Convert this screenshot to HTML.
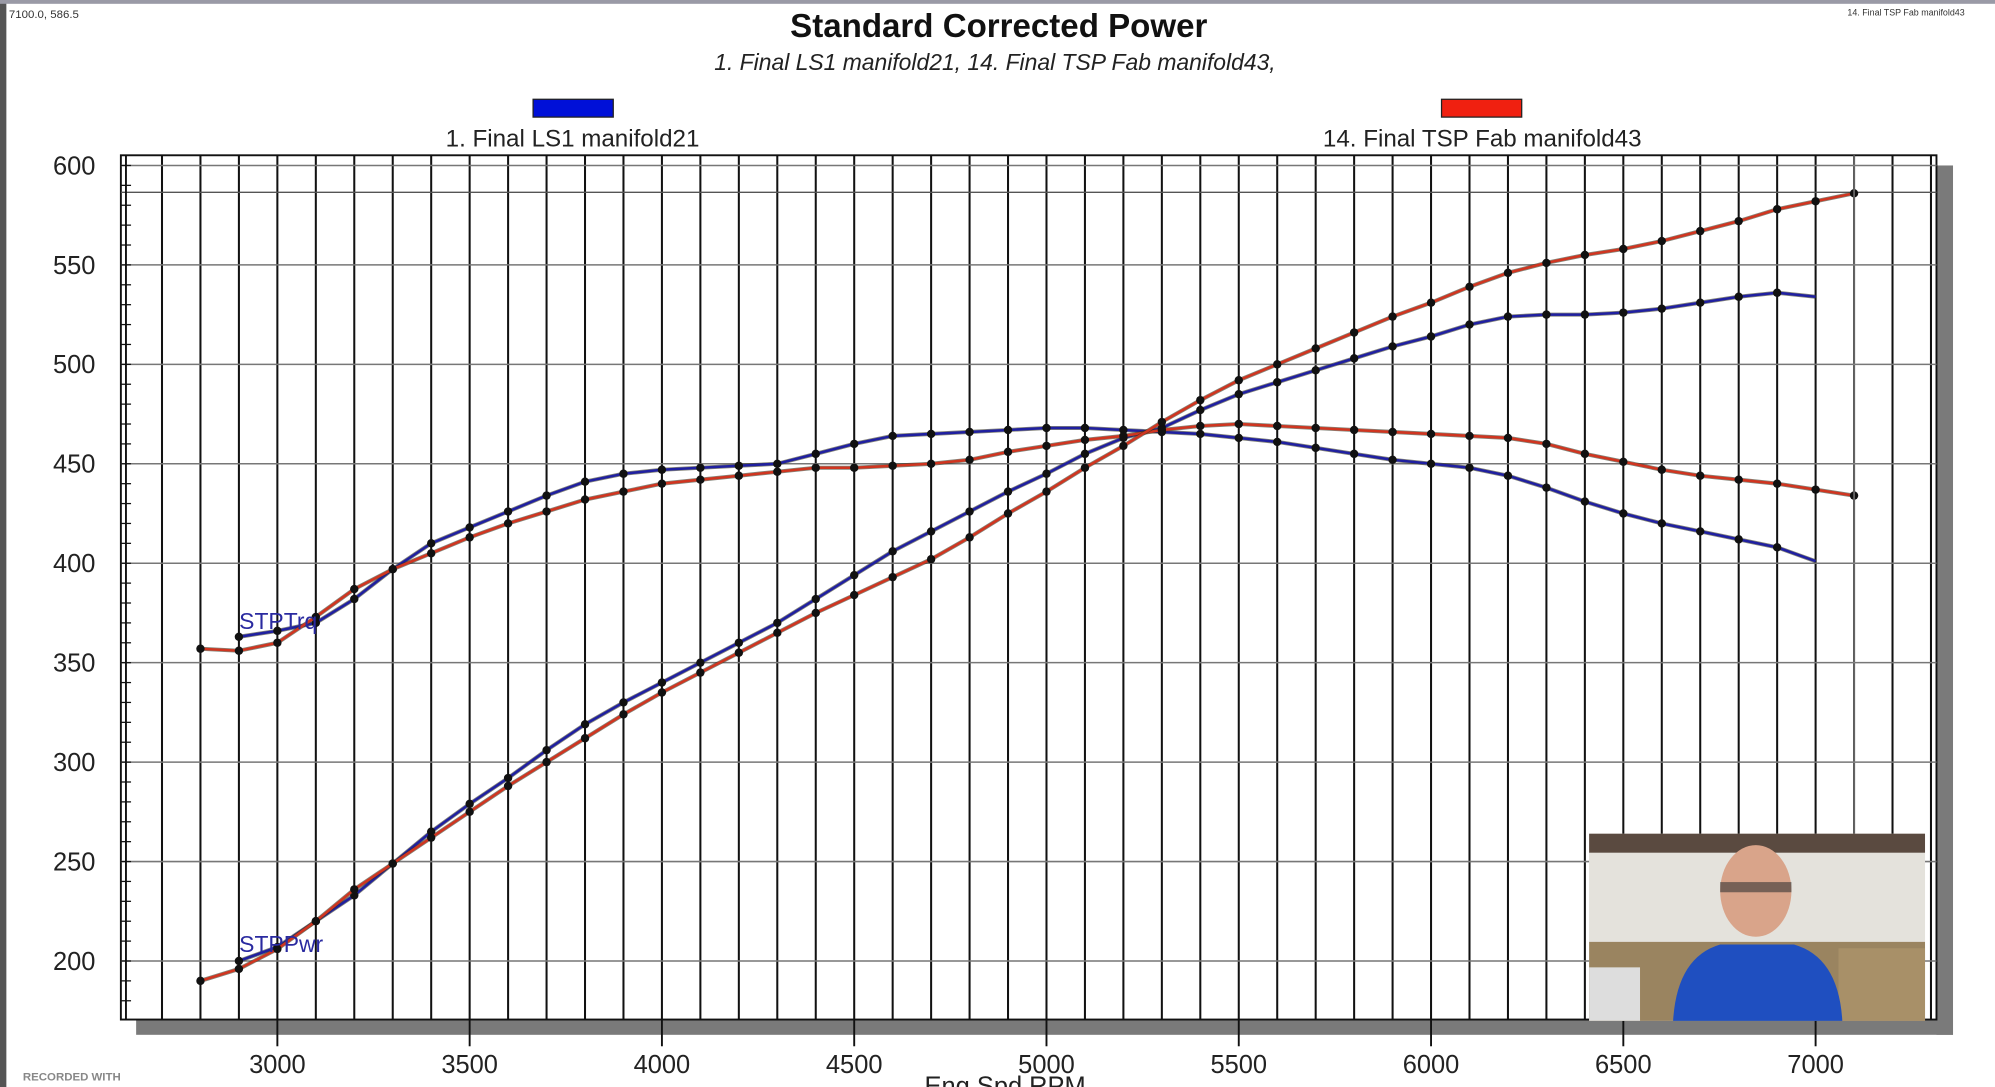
<!DOCTYPE html>
<html><head><meta charset="utf-8"><style>
html,body{margin:0;padding:0;background:#fff;overflow:hidden}
svg{display:block}
text{font-family:"Liberation Sans",sans-serif}
</style></head><body>
<svg id="s" width="1995" height="1087" viewBox="0 0 1568 854" preserveAspectRatio="none" xmlns="http://www.w3.org/2000/svg">
<rect width="1568" height="854" fill="#fff"/>
<rect x="0" y="0" width="5" height="854" fill="#555"/>
<rect x="0" y="0" width="1568" height="3" fill="#9a9aa6"/>
<text x="7" y="14" font-size="9" fill="#333">7100.0, 586.5</text>
<text x="1452" y="12" font-size="7" fill="#333">14. Final TSP Fab manifold43</text>
<text x="785" y="29" font-size="26" font-weight="bold" text-anchor="middle" fill="#111">Standard Corrected Power</text>
<text x="782" y="55" font-size="18" font-style="italic" text-anchor="middle" fill="#222">1. Final LS1 manifold21, 14. Final TSP Fab manifold43,</text>
<rect x="419" y="78" width="63" height="14" fill="#0010d8" stroke="#222"/>
<text x="450" y="115" font-size="19" text-anchor="middle" fill="#222">1. Final LS1 manifold21</text>
<rect x="1133" y="78" width="63" height="14" fill="#f02010" stroke="#222"/>
<text x="1165" y="115" font-size="19" text-anchor="middle" fill="#222">14. Final TSP Fab manifold43</text>
<!-- shadow -->
<rect x="107" y="801" width="1428" height="12" fill="#7a7a7a"/>
<rect x="1522" y="130" width="13" height="683" fill="#7a7a7a"/>
<rect x="95" y="122" width="1427" height="679" fill="#fff" stroke="#111" stroke-width="1.5"/>
<g id="grid"></g>
<g id="lines"></g>
<text x="188" y="494" font-size="18" fill="#2a2aa0">STPTrq</text>
<text x="188" y="748" font-size="18" fill="#2a2aa0">STPPwr</text>
<g id="ylab" font-size="20" fill="#222" text-anchor="end"></g>
<g id="xlab" font-size="20" fill="#222" text-anchor="middle"></g>
<text x="790" y="860" font-size="20" text-anchor="middle" fill="#222">Eng Spd RPM</text>
<text x="18" y="849" font-size="9" font-weight="bold" fill="#888">RECORDED WITH</text>
<!-- webcam -->
<g>
<rect x="1249" y="655" width="264" height="147" fill="#d8d4cc"/>
<rect x="1249" y="655" width="264" height="15" fill="#5a4a40"/>
<rect x="1249" y="670" width="264" height="70" fill="#e4e2dc"/>
<rect x="1249" y="740" width="264" height="62" fill="#9a8460"/>
<rect x="1249" y="760" width="40" height="42" fill="#ddd"/>
<rect x="1445" y="745" width="68" height="57" fill="#a89068"/>
<ellipse cx="1380" cy="700" rx="28" ry="36" fill="#d9a48a"/>
<rect x="1352" y="693" width="56" height="8" fill="#333" opacity="0.6"/>
<path d="M1315 802 Q1318 752 1352 742 L1410 742 Q1445 752 1448 802 Z" fill="#1f4fc0"/>
</g>
</svg>
<script>
const X=r=>218+(r-3000)*0.30225, Y=v=>755-(v-200)*1.5625;
const ns="http://www.w3.org/2000/svg";
function el(p,t,a){const e=document.createElementNS(ns,t);for(const k in a)e.setAttribute(k,a[k]);p.appendChild(e);return e;}
const g=document.getElementById('grid');
for(let r=2700;r<=7300;r+=100){el(g,'line',{x1:X(r),y1:122,x2:X(r),y2:801,stroke:'#111','stroke-width':1.6});}
for(let v=200;v<=600;v+=50){el(g,'line',{x1:95,y1:Y(v),x2:1522,y2:Y(v),stroke:'#777','stroke-width':1.2});}
for(let v=180;v<=600;v+=10){el(g,'line',{x1:95,y1:Y(v),x2:103,y2:Y(v),stroke:'#111','stroke-width':1});}
el(g,'line',{x1:95,y1:Y(586.5),x2:1522,y2:Y(586.5),stroke:'#555','stroke-width':1});
el(g,'line',{x1:99,y1:122,x2:99,y2:801,stroke:'#111','stroke-width':1.5});
const yl=document.getElementById('ylab');
for(let v=200;v<=600;v+=50){const t=el(yl,'text',{x:75,y:Y(v)+7});t.textContent=v;}
const xl=document.getElementById('xlab');
for(let r=3000;r<=7000;r+=500){const t=el(xl,'text',{x:X(r),y:843});t.textContent=r;el(g,'line',{x1:X(r),y1:801,x2:X(r),y2:822,stroke:'#111','stroke-width':1.5});}
const rt=[357,356,360,373,387,397,405,413,420,426,432,436,440,442,444,446,448,448,449,450,452,456,459,462,464,467,469,470,469,468,467,466,465,464,463,460,455,451,447,444,442,440,437,434];
const bt=[null,363,366,370,382,397,410,418,426,434,441,445,447,448,449,450,455,460,464,465,466,467,468,468,467,466,465,463,461,458,455,452,450,448,444,438,431,425,420,416,412,408,401];
const rp=[190,196,206,220,236,249,262,275,288,300,312,324,335,345,355,365,375,384,393,402,413,425,436,448,459,471,482,492,500,508,516,524,531,539,546,551,555,558,562,567,572,578,582,586];
const bp=[null,200,207,220,233,249,265,279,292,306,319,330,340,350,360,370,382,394,406,416,426,436,445,455,463,468,477,485,491,497,503,509,514,520,524,525,525,526,528,531,534,536,534];
const L=document.getElementById('lines');
function series(d,col,dots){let pts=[];d.forEach((v,i)=>{if(v!=null)pts.push([X(2800+i*100),Y(v)]);});
const s=pts.map(p=>p.join(',')).join(' ');
el(L,'polyline',{points:s,fill:'none',stroke:'#332',"stroke-width":3.2,opacity:.6});
el(L,'polyline',{points:s,fill:'none',stroke:col,"stroke-width":2});
pts.forEach((p,i)=>{if(dots&&i<pts.length-(dots==2?1:0))el(L,'circle',{cx:p[0],cy:p[1],r:3.3,fill:'#111'});});}
series(bt,'#2020a0',2);series(bp,'#2020a0',2);series(rt,'#d03520',1);series(rp,'#d03520',1);
el(L,'line',{x1:X(7100),y1:122,x2:X(7100),y2:801,stroke:'#888','stroke-width':1});
</script>
</body></html>
